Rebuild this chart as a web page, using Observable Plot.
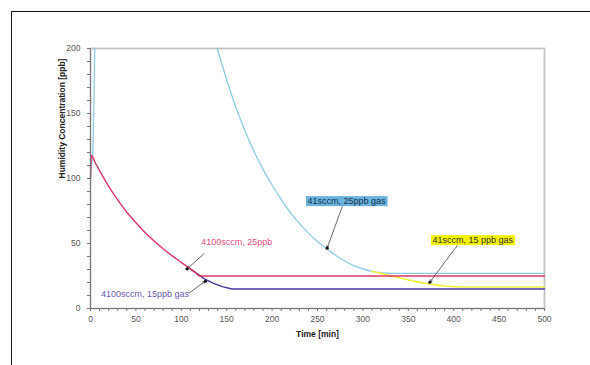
<!DOCTYPE html>
<html><head><meta charset="utf-8">
<script src="https://cdn.jsdelivr.net/npm/d3@7"></script>
<script src="https://cdn.jsdelivr.net/npm/@observablehq/plot@0.6"></script>
<style>
html,body{margin:0;padding:0;background:#fff;}
#wrap{position:relative;width:590px;height:365px;overflow:hidden;background:#fff;}
#frame{position:absolute;left:11px;top:11px;width:620px;height:420px;border-top:1.6px solid #111;border-left:1.6px solid #111;}
#chart{position:absolute;left:0;top:0;}
</style></head><body>
<div id="wrap"><div id="frame"></div><div id="chart"></div></div>
<script>
// ---- data ----
const blueTime  = [0, 1, 2.5, 4.7, 5, 139.5, 150, 160, 170, 180, 190, 200, 210, 220, 230, 240, 250, 260, 270, 280, 290, 300, 310, 320, 330, 500];
const blueValue = [100, 110, 120, 200, null, 200, 176, 155, 137, 121, 107, 95, 84, 74, 65.5, 58, 51.5, 46, 41, 36.5, 33, 30.5, 28.5, 27.5, 27, 27];
const yellowTime  = [310, 320, 330, 340, 350, 360, 370, 380, 390, 400, 410, 500];
const yellowValue = [28.5, 27, 25.3, 23.5, 22, 20.5, 19.2, 18.2, 17.3, 16.8, 16.5, 16.5];
const redTime  = [0, 1, 5, 10, 20, 30, 40, 50, 60, 70, 80, 90, 100, 110, 115, 120, 500];
const redValue = [100, 117.7, 112.5, 106, 94, 83.5, 74, 66, 58.5, 52, 46, 40.5, 35.5, 30.5, 28, 25, 25];
const purpleTime  = [110, 115, 120, 125, 135, 145, 156, 500];
const purpleValue = [30.5, 28, 25.5, 23, 19.5, 16.8, 15, 15];

const labelText = ["41sccm, 25ppb gas", "41sccm, 15 ppb gas", "4100sccm, 25ppb", "4100sccm, 15ppb gas"];
const labelX = [282, 421, 161, 60];
const labelY = [82.5, 52.5, 51, 10.8];
const arrowFromX = [278, 404, 124.8, 108.3];
const arrowFromY = [79.8, 48.5, 42, 11.8];
const arrowToX = [260.6, 373.7, 106.4, 126.6];
const arrowToY = [46.4, 20.2, 30.5, 21];

const xTicks = d3.range(0, 501, 10);
const yTicks = d3.range(0, 201, 10);

// ---- build tables ----
const toRows = (t, v) => t.map((x, i) => ({x, y: v[i]}));
const blue = toRows(blueTime, blueValue);
const yellow = toRows(yellowTime, yellowValue);
const red = toRows(redTime, redValue);
const purple = toRows(purpleTime, purpleValue);
const labels = labelText.map((text, i) => ({text, x: labelX[i], y: labelY[i]}));
const arrows = arrowFromX.map((x1, i) => ({x1, y1: arrowFromY[i], x2: arrowToX[i], y2: arrowToY[i]}));
const labelFill = ["#15324f", "#333", "#e4507e", "#6a58ad"];
const labelBg = ["#6ab3dc", "#f4f400", null, null];

const font = "'Liberation Sans', Arial, sans-serif";
const chart = Plot.plot({
  width: 590, height: 365,
  marginLeft: 90, marginRight: 46, marginTop: 48, marginBottom: 57,
  style: {fontFamily: font, color: "#555", background: "transparent"},
  x: {domain: [0, 500]},
  y: {domain: [0, 200]},
  marks: [
    Plot.frame({stroke: "#c4c4c4", strokeWidth: 1.8}),
    Plot.line(blue, {x: "x", y: "y", stroke: "#8ccbe3", strokeWidth: 1.3, curve: "monotone-x"}),
    Plot.line(yellow, {x: "x", y: "y", stroke: "#f0f03a", strokeWidth: 1.6, curve: "monotone-x"}),
    Plot.line(purple, {x: "x", y: "y", stroke: "#4a3a9e", strokeWidth: 1.4}),
    Plot.line(red, {x: "x", y: "y", stroke: "#df3468", strokeWidth: 1.4, curve: "monotone-x"}),
    Plot.ruleX([0], {stroke: "#777", strokeWidth: 1}),
    Plot.ruleY([0], {stroke: "#777", strokeWidth: 1}),
    Plot.axisX({ticks: xTicks, tickFormat: d => d % 50 === 0 ? d : "", tickSize: 3, tickPadding: 4, fontSize: 8.5, label: null, stroke: "#777"}),
    Plot.axisY({ticks: yTicks, tickFormat: d => d % 50 === 0 ? d : "", tickSize: 3, tickPadding: 7, fontSize: 8.5, label: null, stroke: "#777"}),
    Plot.text(["Time [min]"], {frameAnchor: "bottom", dy: 28, text: d => d, fontWeight: "bold", fontSize: 8.5, fill: "#222"}),
    Plot.text(["Humidity Concentration [ppb]"], {frameAnchor: "left", dx: -28, rotate: -90, text: d => d, fontWeight: "bold", fontSize: 8.5, fill: "#222"}),
    Plot.arrow(arrows, {x1: "x1", y1: "y1", x2: "x2", y2: "y2", stroke: "#444", strokeWidth: 0.8, headLength: 5, headAngle: 50}),
    Plot.dot(arrows, {x: "x2", y: "y2", r: 1.6, fill: "#111"}),
    Plot.text(labels, {x: "x", y: "y", text: "text", fontSize: 9, fill: (d, i) => labelFill[i]})
  ]
});
document.getElementById("chart").append(chart);

// background boxes behind the two highlighted labels
chart.querySelectorAll("text").forEach(t => {
  const i = labelText.indexOf(t.textContent);
  if (i < 0 || !labelBg[i]) return;
  const b = t.getBBox();
  const r = document.createElementNS("http://www.w3.org/2000/svg", "rect");
  r.setAttribute("x", b.x - 1.5); r.setAttribute("y", b.y);
  r.setAttribute("width", b.width + 3); r.setAttribute("height", b.height);
  r.setAttribute("fill", labelBg[i]);
  const tr = t.getAttribute("transform");
  if (tr) r.setAttribute("transform", tr);
  t.parentNode.insertBefore(r, t);
});
</script>
</body></html>
